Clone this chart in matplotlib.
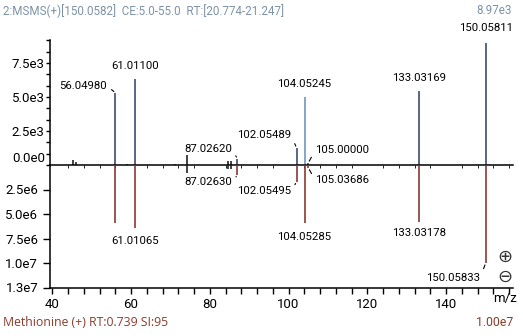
"""
Mirror plot of an MS/MS spectrum (measured, top) against a library
spectrum (Methionine, bottom).
"""

import matplotlib.pyplot as plt
from matplotlib.ticker import FixedLocator, MultipleLocator, AutoMinorLocator, FuncFormatter

plt.rcParams['font.family'] = ['Roboto', 'DejaVu Sans']

# Measured spectrum (top), intensities in counts
upper_mz = [45.3, 46.0, 56.04980, 59.0, 61.01100, 71.2, 74.3, 84.7, 85.3,
            87.02620, 102.05489, 104.05245, 105.00000, 133.03169, 150.05811]
upper_int = [370, 220, 5300, 80, 6320, 80, 740, 300, 300,
             450, 1250, 5000, 150, 5440, 8970]

# Library spectrum (bottom)
lower_mz = [56.0498, 61.01065, 74.3, 84.7, 85.3, 87.02630, 102.05495,
            104.05285, 105.03686, 133.03178, 150.05833]
lower_int = [5.92e6, 6.43e6, 0.8e6, 0.4e6, 0.4e6, 1.0e6, 1.7e6,
             5.92e6, 0.3e6, 5.78e6, 1.0e7]

upper_ticks = [0, 2500, 5000, 7500]
upper_tick_labels = ['', '2.5e3', '5.0e3', '7.5e3']
lower_ticks = [2.5e6, 5.0e6, 7.5e6, 1.0e7, 1.25e7]
lower_tick_labels = ['2.5e6', '5.0e6', '7.5e6', '1.0e7', '1.3e7']

header = '2:MSMS(+)[150.0582]  CE:5.0-55.0  RT:[20.774-21.247]'
footer = 'Methionine (+) RT:0.739 SI:95'
upper_max_text = '8.97e3'
lower_max_text = '1.00e7'

# colours
NAVY = '#3e4a74'
LIGHT_BLUE = '#6b97c2'
BROWN = '#8a3a33'
HEAD_COL = '#7d92a8'
FOOT_COL = '#8a3b2c'

W, H = 523, 336
fig = plt.figure(figsize=(W / 100, H / 100), dpi=100)

# pixel layout of the two halves (zero line at y=165 px)
left, right = 50, 513
ax_top = fig.add_axes([left / W, (H - 165) / H, (right - left) / W, 125 / H])
ax_bot = fig.add_axes([left / W, (H - 287.5) / H, (right - left) / W, 122.5 / H], sharex=ax_top)


def peak_color(mz, default):
    # matched base peak drawn lighter, unassigned small peaks in black
    if mz == 104.05245:
        return LIGHT_BLUE
    if mz in (74.3, 84.7, 85.3, 45.3, 46.0):
        return '#222222'
    return default


ax_top.vlines(upper_mz, 0, upper_int, colors=[peak_color(m, NAVY) for m in upper_mz], lw=1.2)
ax_bot.vlines(lower_mz, 0, lower_int, colors=[peak_color(m, BROWN) for m in lower_mz], lw=1.2)

ax_top.set_xlim(39.42, 157.0)
ax_top.set_ylim(0, 9190)
ax_bot.set_ylim(1.25e7, 0)

for ax in (ax_top, ax_bot):
    ax.spines['top'].set_visible(False)
    ax.spines['right'].set_visible(False)
    ax.spines['left'].set_linewidth(1.1)
    ax.spines['bottom'].set_linewidth(1.1)
    ax.patch.set_visible(False)

# top half: zero line = bottom spine, no x ticks
ax_top.tick_params(axis='x', bottom=False, labelbottom=False)
ax_top.yaxis.set_major_locator(FixedLocator(upper_ticks))
ax_top.set_yticklabels(upper_tick_labels)
ax_top.yaxis.set_minor_locator(AutoMinorLocator(3))
ax_top.tick_params(axis='y', which='both', length=3, width=1, pad=1, labelsize=9.5)
ax_top.text(-0.011, 0.01, '0.0e0', transform=ax_top.get_yaxis_transform(),
            ha='right', va='bottom', fontsize=9.5)

# bottom half: spine at top hidden, x ticks on bottom
ax_bot.spines['top'].set_visible(False)
ax_bot.xaxis.set_major_locator(MultipleLocator(20))
ax_bot.xaxis.set_minor_locator(MultipleLocator(4))
ax_bot.xaxis.set_major_formatter(FuncFormatter(lambda v, p: f'{v:.0f}' if v <= 140 else ''))
ax_bot.tick_params(axis='x', which='both', length=4.5, width=1, pad=3, labelsize=9.5)
ax_bot.yaxis.set_major_locator(FixedLocator(lower_ticks))
ax_bot.set_yticklabels(lower_tick_labels)
ax_bot.tick_params(axis='y', length=5, width=1, pad=3.5, labelsize=9.5)
ax_bot.text(0.982, -0.09, 'm/z', transform=ax_bot.transAxes, ha='center', va='center', fontsize=9.5)

# peak labels centred above / below the peak tip
lab_fs = 8.2
centered = [
    (ax_top, 61.01100, 6320, '61.01100', 9.5),
    (ax_top, 104.05245, 5000, '104.05245', 9.5),
    (ax_top, 133.03169, 5440, '133.03169', 9.5),
    (ax_top, 150.05811, 8970, '150.05811', 10.5),
    (ax_bot, 61.01065, 6.43e6, '61.01065', -9.5),
    (ax_bot, 104.05285, 5.92e6, '104.05285', -10),
    (ax_bot, 133.03178, 5.78e6, '133.03178', -8.5),
]
for ax, mz, inten, txt, dy in centered:
    ax.annotate(txt, (mz, inten), xytext=(0, dy), textcoords='offset points',
                ha='center', va='center', fontsize=lab_fs)

# peak labels set aside with a short leader line
leadered = [
    (ax_top, 56.04980, 5300, '56.04980', (-6, 5), 'right'),
    (ax_top, 87.02620, 450, '87.02620', (-4, 7), 'right'),
    (ax_top, 102.05489, 1250, '102.05489', (-4, 9), 'right'),
    (ax_top, 105.00000, 150, '105.00000', (5, 9), 'left'),
    (ax_bot, 87.02630, 1.0e6, '87.02630', (-4, -5.5), 'right'),
    (ax_bot, 102.05495, 1.7e6, '102.05495', (-4, -7), 'right'),
    (ax_bot, 105.03686, 0.3e6, '105.03686', (5, -9), 'left'),
    (ax_bot, 150.05833, 1.0e7, '150.05833', (-4, -11), 'right'),
]
for ax, mz, inten, txt, off, ha in leadered:
    ax.annotate(txt, (mz, inten), xytext=off, textcoords='offset points',
                ha=ha, va='center', fontsize=lab_fs,
                arrowprops=dict(arrowstyle='-', lw=0.8, color='black',
                                shrinkA=1.5, shrinkB=1.5,
                                relpos=(1, 0.5) if ha == 'right' else (0, 0.5)))

# header / footer
fig.text(3 / W, 1 - 11 / H, header, color=HEAD_COL, fontsize=8.4, va='center', ha='left')
fig.text(512 / W, 1 - 11 / H, upper_max_text, color=HEAD_COL, fontsize=8.4, va='center', ha='right')
fig.text(3 / W, 1 - 323 / H, footer, color=FOOT_COL, fontsize=8.8, va='center', ha='left',
         family=['Open Sans', 'DejaVu Sans'])
fig.text(513 / W, 1 - 323 / H, lower_max_text, color=FOOT_COL, fontsize=8.8, va='center', ha='right')

# polarity markers
fig.text(505 / W, 1 - 257 / H, '\u2295', fontsize=13, ha='center', va='center',
         color='#333333', family=['DejaVu Sans'])
fig.text(505 / W, 1 - 277 / H, '\u2296', fontsize=13, ha='center', va='center',
         color='#333333', family=['DejaVu Sans'])

fig.savefig('out.png', dpi=100)
